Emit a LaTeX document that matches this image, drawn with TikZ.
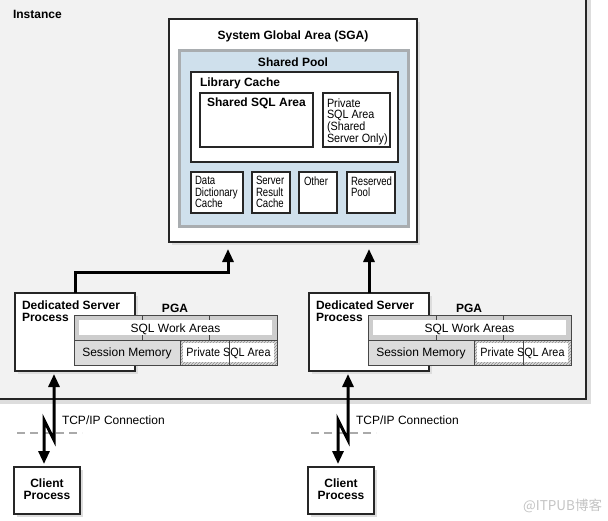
\documentclass[tikz,border=0pt]{standalone}
\usepackage{fontspec}
\setmainfont{Liberation Sans}
\newfontfamily\narrowA[FakeStretch=0.8]{Liberation Sans}
\newfontfamily\narrowB[FakeStretch=0.9]{Liberation Sans}
\newfontfamily\cjkfont{Noto Sans CJK SC}
\usetikzlibrary{arrows.meta,patterns,shadows}
\definecolor{instbg}{HTML}{F2F2F2}
\definecolor{shadowc}{HTML}{DDDDDD}
\definecolor{poolbg}{HTML}{CFE0EC}
\definecolor{poolbd}{HTML}{A9ADB0}
\definecolor{dark}{HTML}{262626}
\definecolor{pgagray}{HTML}{CDCDCD}
\definecolor{sessgray}{HTML}{DCDCDC}
\definecolor{dashc}{HTML}{AAAAAA}
\definecolor{wmark}{HTML}{C4C4C4}
\begin{document}
\begin{tikzpicture}[x=1pt,y=-1pt,
  every node/.style={font=\fontsize{12}{12}\selectfont, inner sep=0pt, outer sep=0pt},
  bt/.style={font=\bfseries\fontsize{12}{12}\selectfont},
  shd/.style={drop shadow={shadow xshift=3pt, shadow yshift=-3pt, fill=shadowc, opacity=1}},
  box/.style={draw=dark, line width=1.8pt, fill=white, anchor=north west},
  sbox/.style={draw=dark, line width=1.5pt, fill=white, anchor=north west},
  smalltxt/.style={anchor=north west, align=left, font=\narrowA\fontsize{12}{11.5}\selectfont},
  arr/.style={line width=3pt, -{Triangle[width=11pt,length=13pt]}},
  bolt/.style={line width=3pt, miter limit=10, {Triangle[width=11pt,length=13pt]}-{Triangle[width=11pt,length=13pt]}},
  pgaline/.style={draw=dark!85, line width=1pt}
]
\useasboundingbox (0,0) rectangle (608,520);
\fill[white] (0,0) rectangle (608,520);
% Instance
\fill[shadowc] (-5,-5) rectangle (591,404);
\node[draw=dark, line width=2pt, fill=instbg, anchor=north west, minimum width=591pt, minimum height=404pt] (inst) at (-5,-5) {};
\node[bt, anchor=base west] (instlbl) at (13,18) {Instance};
% SGA
\node[box, shd, minimum width=248pt, minimum height=223pt] (sga) at (169,19) {};
\node[bt, anchor=base] (sgalbl) at (293,39) {System Global Area (SGA)};
\node[fill=poolbg, draw=poolbd, line width=3pt, anchor=north west, minimum width=229pt, minimum height=176pt] (pool) at (179,50) {};
\node[bt, anchor=base] (poollbl) at (293,66) {Shared Pool};
\node[box, line width=2pt, minimum width=207pt, minimum height=90pt] (lib) at (191,72) {};
\node[bt, anchor=base west] (liblbl) at (200,86) {Library Cache};
\node[box, line width=2pt, minimum width=113pt, minimum height=54pt] (ssql) at (200,93) {};
\node[bt, anchor=base] (ssqllbl) at (256.5,106) {Shared SQL Area};
\node[box, line width=2pt, minimum width=67pt, minimum height=54pt] (psql) at (323,93) {};
\node[anchor=north west, align=left, font=\narrowB\fontsize{12}{11.8}\selectfont] (psqllbl) at (327,98.4) {Private\\SQL Area\\(Shared\\Server Only)};
\node[sbox, minimum width=52pt, minimum height=41pt] (ddc) at (191,172) {};
\node[smalltxt] (ddclbl) at (195,176.4) {Data\\Dictionary\\Cache};
\node[sbox, minimum width=38pt, minimum height=41pt] (src) at (252,172) {};
\node[smalltxt] (srclbl) at (256,176.4) {Server\\Result\\Cache};
\node[sbox, minimum width=38pt, minimum height=41pt] (oth) at (299,172) {};
\node[smalltxt] (othlbl) at (304,176.4) {Other};
\node[sbox, minimum width=48pt, minimum height=41pt] (rsv) at (347,172) {};
\node[smalltxt] (rsvlbl) at (351,176.4) {Reserved\\Pool};
% two server/client groups
\foreach \o/\n in {0/1,294/2}{
  \node[box, shd, minimum width=120pt, minimum height=78pt] (ds\n) at (\o+15,293) {};
  \node[bt, anchor=north west, align=left] (dslbl\n) at (\o+22,300.3) {Dedicated Server\\Process};
  \node[bt, anchor=base] (pgalbl\n) at (\o+175,312) {PGA};
  \node[fill=pgagray, anchor=north west, minimum width=203pt, minimum height=50pt] (pga\n) at (\o+74,315) {};
  \draw[pgaline, line width=0.8pt] (\o+142,315) -- (\o+142,340);
  \draw[pgaline, line width=0.8pt] (\o+209,315) -- (\o+209,340);
  \node[fill=white, anchor=north west, minimum width=193pt, minimum height=15pt] (wa\n) at (\o+79,320) {};
  \node[anchor=base] (walbl\n) at (\o+175.5,332) {SQL Work Areas};
  \node[fill=sessgray, anchor=north west, minimum width=106pt, minimum height=25pt] (sm\n) at (\o+74,340) {};
  \node[anchor=base] (smlbl\n) at (\o+127,356) {Session Memory};
  \node[preaction={fill=sessgray}, pattern=north east lines, pattern color=black!45, anchor=north west, minimum width=97pt, minimum height=25pt] (ps\n) at (\o+180,340) {};
  \node[fill=white, anchor=north west, minimum width=91pt, minimum height=19pt] (psw\n) at (\o+183,343) {};
  \draw[pgaline, line width=0.8pt] (\o+229,340) -- (\o+229,365);
  \node[anchor=base, font=\narrowB\fontsize{12}{12}\selectfont] (pslbl\n) at (\o+228.5,356) {Private SQL Area};
  \draw[pgaline] (pga\n.north west) rectangle (pga\n.south east);
  \draw[pgaline] (pga\n.west) ++(0,0) (\o+74,340) -- (\o+277,340);
  \draw[pgaline] (sm\n.north east) -- (sm\n.south east);
  % TCP/IP
  \draw[dashc, line width=2.5pt, dash pattern=on 8pt off 5pt] (\o+17,433) -- (\o+82,433);
  \node[box, shd, minimum width=66pt, minimum height=47pt] (cp\n) at (\o+14,467) {};
  \node[bt, anchor=north, align=center] (cplbl\n) at (\o+47,478.9) {Client\\Process};
  \draw[bolt, shorten <=3pt, shorten >=3pt] ([xshift=-21pt]ds\n.south) -- ++(0,69) -- ++(-10,-20) -- ([xshift=-3pt]cp\n.north);
  \node[anchor=base west] (tcp\n) at (\o+62,424) {TCP/IP Connection};
}
% arrows to SGA
\draw[arr, shorten >=7pt] (ds1.north) -- ++(0,-21) -| ([xshift=59pt]sga.south west);
\draw[arr, shorten >=7pt] (ds2.north) -- (ds2.north |- sga.south);
% watermark
\node[anchor=base east, text=wmark, font=\cjkfont\fontsize{13.5}{13.5}\selectfont] (wm) at (602,510) {@ITPUB博客};
\end{tikzpicture}
\end{document}
